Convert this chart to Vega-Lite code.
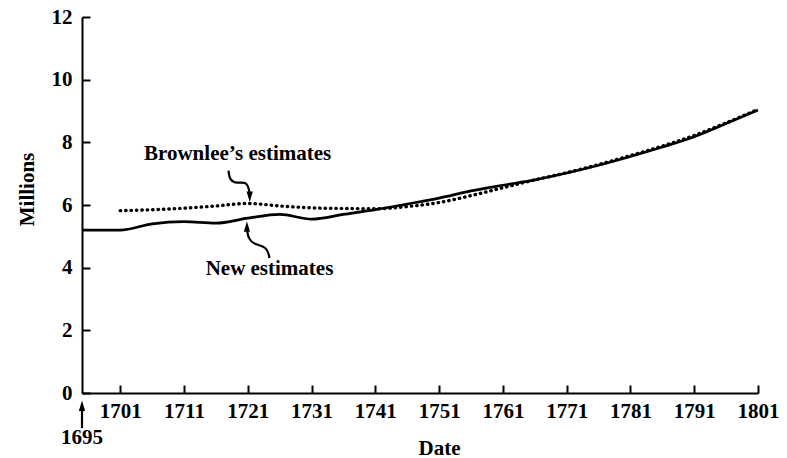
{
  "$schema": "https://vega.github.io/schema/vega-lite/v6.json",
  "width": 676,
  "height": 376,
  "autosize": {"type": "none"},
  "padding": {"left": 82, "top": 17, "right": 29, "bottom": 65},
  "background": "white",
  "config": {
    "view": {"stroke": null},
    "font": "Liberation Serif",
    "axis": {
      "labelFont": "Liberation Serif",
      "labelFontSize": 21,
      "labelFontWeight": "bold",
      "labelColor": "black",
      "titleFont": "Liberation Serif",
      "titleFontSize": 21,
      "titleFontWeight": "bold",
      "titleColor": "black",
      "domainColor": "black",
      "domainWidth": 2,
      "tickColor": "black",
      "tickWidth": 2,
      "tickSize": -8,
      "grid": false,
      "labelFlush": false,
      "labelOverlap": false
    }
  },
  "datasets": {
    "newest": [
      {"year": 1695, "value": 5.20},
      {"year": 1701, "value": 5.20},
      {"year": 1706, "value": 5.40},
      {"year": 1711, "value": 5.47},
      {"year": 1716, "value": 5.42},
      {"year": 1721, "value": 5.58},
      {"year": 1726, "value": 5.70},
      {"year": 1731, "value": 5.55},
      {"year": 1736, "value": 5.70},
      {"year": 1741, "value": 5.85},
      {"year": 1746, "value": 6.03},
      {"year": 1751, "value": 6.22},
      {"year": 1756, "value": 6.45},
      {"year": 1761, "value": 6.63},
      {"year": 1766, "value": 6.80},
      {"year": 1771, "value": 7.02},
      {"year": 1776, "value": 7.27},
      {"year": 1781, "value": 7.55},
      {"year": 1786, "value": 7.85},
      {"year": 1791, "value": 8.18},
      {"year": 1796, "value": 8.60},
      {"year": 1801, "value": 9.03}
    ],
    "brownlee": [
      {"year": 1701, "value": 5.82},
      {"year": 1706, "value": 5.85},
      {"year": 1711, "value": 5.90},
      {"year": 1716, "value": 5.97},
      {"year": 1721, "value": 6.05},
      {"year": 1726, "value": 5.97},
      {"year": 1731, "value": 5.91},
      {"year": 1736, "value": 5.89},
      {"year": 1741, "value": 5.88},
      {"year": 1746, "value": 5.95},
      {"year": 1751, "value": 6.08},
      {"year": 1756, "value": 6.30},
      {"year": 1761, "value": 6.55},
      {"year": 1766, "value": 6.80},
      {"year": 1771, "value": 7.03},
      {"year": 1776, "value": 7.29},
      {"year": 1781, "value": 7.58},
      {"year": 1786, "value": 7.88},
      {"year": 1791, "value": 8.22},
      {"year": 1796, "value": 8.62},
      {"year": 1801, "value": 9.05}
    ],
    "arrows": [
      {"id": "b", "i": 0, "year": 1717.98, "value": 7.10},
      {"id": "b", "i": 1, "year": 1718.13, "value": 6.79},
      {"id": "b", "i": 2, "year": 1719.29, "value": 6.68},
      {"id": "b", "i": 3, "year": 1720.86, "value": 6.76},
      {"id": "b", "i": 4, "year": 1721.27, "value": 6.42},
      {"id": "b", "i": 5, "year": 1721.30, "value": 6.28},
      {"id": "n", "i": 0, "year": 1720.86, "value": 5.30},
      {"id": "n", "i": 1, "year": 1720.90, "value": 5.16},
      {"id": "n", "i": 2, "year": 1721.10, "value": 4.94},
      {"id": "n", "i": 3, "year": 1721.90, "value": 4.74},
      {"id": "n", "i": 4, "year": 1724.00, "value": 4.68},
      {"id": "n", "i": 5, "year": 1724.40, "value": 4.31},
      {"id": "s", "i": 0, "year": 1695.0, "value": -0.45},
      {"id": "s", "i": 1, "year": 1695.0, "value": -1.12}
    ],
    "heads": [
      {"dir": "down", "year": 1721.30, "value": 6.26},
      {"dir": "up", "year": 1720.86, "value": 5.31},
      {"dir": "up", "year": 1695.0, "value": -0.41}
    ],
    "labels": [
      {"text": "Brownlee’s estimates", "year": 1719.4, "value": 7.62},
      {"text": "New estimates", "year": 1724.4, "value": 3.97},
      {"text": "1695", "year": 1695.0, "value": -1.44}
    ]
  },
  "layer": [
    {
      "data": {"name": "newest"},
      "mark": {"type": "line", "color": "black", "strokeWidth": 2.7, "interpolate": "monotone"},
      "encoding": {
        "x": {
          "field": "year", "type": "quantitative",
          "scale": {"domain": [1695, 1801], "nice": false, "zero": false},
          "axis": {
            "title": "Date",
            "values": [1701, 1711, 1721, 1731, 1741, 1751, 1761, 1771, 1781, 1791, 1801],
            "format": "d",
            "labelPadding": 15,
            "titleX": 357,
            "titleY": 61,
            "titleAlign": "center",
            "titleBaseline": "alphabetic"
          }
        },
        "y": {
          "field": "value", "type": "quantitative",
          "scale": {"domain": [0, 12], "nice": false},
          "axis": {
            "title": "Millions",
            "values": [0, 2, 4, 6, 8, 10, 12],
            "labelPadding": 18,
            "titleAngle": -90,
            "titleX": -55,
            "titleY": 172,
            "titleAlign": "center",
            "titleBaseline": "middle"
          }
        }
      }
    },
    {
      "data": {"name": "brownlee"},
      "mark": {"type": "line", "color": "black", "strokeWidth": 3.4, "strokeCap": "round", "strokeDash": [0.4, 5.0], "interpolate": "monotone"},
      "encoding": {
        "x": {"field": "year", "type": "quantitative"},
        "y": {"field": "value", "type": "quantitative"}
      }
    },
    {
      "data": {"name": "arrows"},
      "mark": {"type": "line", "color": "black", "strokeWidth": 2.2, "interpolate": "basis"},
      "encoding": {
        "x": {"field": "year", "type": "quantitative"},
        "y": {"field": "value", "type": "quantitative"},
        "detail": {"field": "id"},
        "order": {"field": "i"}
      }
    },
    {
      "data": {"name": "heads"},
      "transform": [{"filter": "datum.dir === 'up'"}],
      "mark": {"type": "point", "shape": "M0,-1L0.6,1L-0.6,1Z", "size": 110, "filled": true, "color": "black", "opacity": 1},
      "encoding": {
        "x": {"field": "year", "type": "quantitative"},
        "y": {"field": "value", "type": "quantitative"}
      }
    },
    {
      "data": {"name": "heads"},
      "transform": [{"filter": "datum.dir === 'down'"}],
      "mark": {"type": "point", "shape": "M0,1L0.6,-1L-0.6,-1Z", "size": 110, "filled": true, "color": "black", "opacity": 1},
      "encoding": {
        "x": {"field": "year", "type": "quantitative"},
        "y": {"field": "value", "type": "quantitative"}
      }
    },
    {
      "data": {"name": "labels"},
      "mark": {"type": "text", "font": "Liberation Serif", "fontSize": 21, "fontWeight": "bold", "color": "black", "align": "center", "baseline": "middle"},
      "encoding": {
        "x": {"field": "year", "type": "quantitative"},
        "y": {"field": "value", "type": "quantitative"},
        "text": {"field": "text"}
      }
    }
  ]
}
